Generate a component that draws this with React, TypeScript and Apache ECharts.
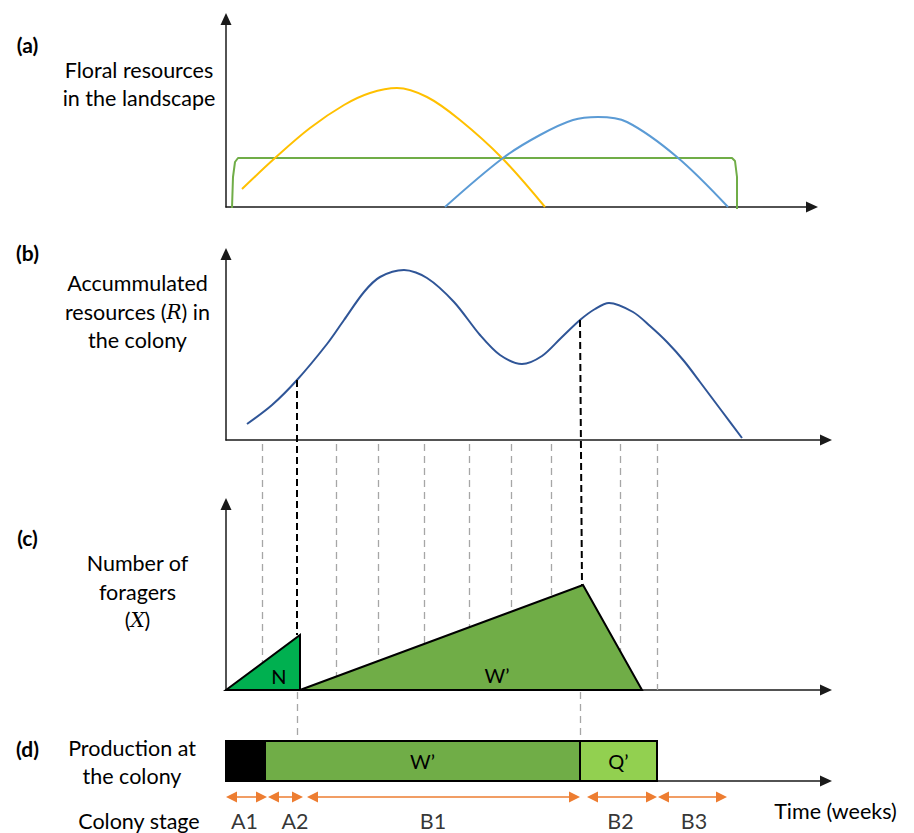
import React, { useEffect, useRef } from "react";
import * as echarts from "echarts";

// Time axis unit: 1 unit = one step of the (unlabelled) time axis; y values relative amounts.
// (a) Floral resources in the landscape
const YELLOW_FLOWERS = [[1.6, 1.8], [4.9, 4.9], [8.4, 7.9], [11.8, 10.2], [14.4, 11.4], [17.1, 11.9], [20.1, 11.0], [23.4, 8.7], [27.6, 4.9], [31.9, 0.0]];
const BLUE_FLOWERS = [[21.9, 0], [27.7, 4.9], [31.4, 7.2], [34.7, 8.7], [37.2, 9.0], [40.1, 8.5], [45.1, 5.0], [50.2, 0]];
const GREEN_FLOWERS = [[0.6, -0.1], [0.7, 3.0], [0.9, 4.5], [1.2, 4.9], [50.6, 4.9], [50.9, 4.6], [51.1, 3.0], [51.1, -0.2]];

// (b) Accumulated resources R
const RESOURCES = [
  [2.1, 1.6], [4.6, 3.5], [7.1, 6.0], [10.1, 9.6], [11.8, 12.0], [13.8, 14.8], [15.4, 16.3], [17.8, 17.0],
  [20.1, 16.2], [22.8, 13.8], [25.4, 10.5], [27.4, 8.5], [29.6, 7.6], [31.6, 8.4], [33.5, 10.2],
  [35.4, 12.0], [36.9, 13.1], [38.3, 13.7], [40.7, 12.8], [42.4, 11.4], [44.1, 9.8], [45.8, 7.9], [47.4, 5.8],
  [49.5, 3.0], [51.6, 0.2],
];

// (c) Number of foragers X
const FORAGER_NAMES = ["N", "W\u2019"];
const FORAGER_XS = [[0, 7.4, 7.4], [7.4, 35.7, 41.6]];
const FORAGER_YS = [[0, 5.5, 0], [0, 10.5, 0]];
const FORAGER_LABEL_X = [5.3, 27.1];
const FORAGER_LABEL_Y = [1.4, 1.5];

// guide lines (in panel c units)
const GUIDE_X = [3.6, 11.0, 15.2, 19.8, 24.3, 28.5, 32.5, 39.4, 43.1];
const GUIDE_TOP = 24.6;
const LINK_X_TOP = [7.1, 35.4];
const LINK_Y_TOP = [31.0, 37.0];
const LINK_X_BOTTOM = [7.1, 35.6];
const LINK_Y_BOTTOM = [5.5, 10.5];
const LOWER_LINK_X = [7.1, 35.4];
const LOWER_LINK_Y = [-0.2, -5.0];

// (d) Production at the colony
const PROD_NAMES = ["", "W\u2019", "Q\u2019"];
const PROD_START = [0, 3.9, 35.4];
const PROD_END = [3.9, 35.4, 43.1];
const PROD_HEIGHT = 4;

// Colony stages
const STAGE_NAMES = ["A1", "A2", "B1", "B2", "B3"];
const STAGE_START = [0, 4.2, 8.1, 36.1, 43.2];
const STAGE_END = [4.1, 7.7, 35.4, 43.1, 50.1];
const STAGE_LABEL_X = [1.85, 6.9, 20.7, 39.45, 46.8];
const STAGE_ROW_Y = -1.6;
const STAGE_LABEL_Y = -4.0;

const FONT = "Lato, 'Noto Sans', sans-serif";
const FS = 21.5;

export default function App() {
  const ref = useRef<HTMLDivElement>(null);
  useEffect(() => {
    if (!ref.current) return;
    const chart = echarts.init(ref.current, undefined, { renderer: "svg" });
    const axisLine = (show: boolean, color: string) => ({
      show,
      onZero: false,
      symbol: ["none", "triangle"],
      symbolSize: [11, 12],
      lineStyle: { color, width: 1.5 },
    });
    const xMax = [58.6, 60, 60, 60];
    const yMax = [18.8, 18.6, 18.6, 4];
    const arrowInset = 0.55;
    const polyFills = ["#00B050", "#70AD47"];
    const prodFills = ["#000000", "#70AD47", "#92D050"];

    const option: any = {
      animation: false,
      backgroundColor: "#ffffff",
      grid: [
        { left: 226, top: 19, width: 586, height: 188 },
        { left: 226, top: 254, width: 600, height: 186 },
        { left: 226, top: 504, width: 600, height: 186 },
        { left: 226, top: 741, width: 600, height: 40 },
      ],
      xAxis: [0, 1, 2, 3].map((i) => ({
        type: "value",
        gridIndex: i,
        min: 0,
        max: xMax[i],
        axisLine: axisLine(true, "#1a1a1a"),
        axisTick: { show: false },
        axisLabel: { show: false },
        splitLine: { show: false },
      })),
      yAxis: [0, 1, 2, 3].map((i) => ({
        type: "value",
        gridIndex: i,
        min: 0,
        max: yMax[i],
        show: i < 3,
        axisLine: axisLine(i < 3, "#1a1a1a"),
        axisTick: { show: false },
        axisLabel: { show: false },
        splitLine: { show: false },
      })),
      series: [
        {
          type: "line", xAxisIndex: 0, yAxisIndex: 0, data: YELLOW_FLOWERS, smooth: 0.35,
          symbol: "none", lineStyle: { color: "#FFC000", width: 2 }, z: 3,
        },
        {
          type: "line", xAxisIndex: 0, yAxisIndex: 0, data: BLUE_FLOWERS, smooth: 0.35,
          symbol: "none", lineStyle: { color: "#5B9BD5", width: 2 }, z: 3,
        },
        {
          type: "line", xAxisIndex: 0, yAxisIndex: 0, data: GREEN_FLOWERS, smooth: false,
          symbol: "none", lineStyle: { color: "#70AD47", width: 2 }, z: 2, clip: false,
        },
        {
          type: "line", xAxisIndex: 1, yAxisIndex: 1, data: RESOURCES, smooth: 0.3,
          symbol: "none", lineStyle: { color: "#2F5597", width: 2 }, z: 3,
        },
        {
          type: "lines", coordinateSystem: "cartesian2d", xAxisIndex: 2, yAxisIndex: 2, clip: false, z: 1,
          lineStyle: { color: "#A6A6A6", width: 1.3, type: [7, 5], opacity: 1 },
          data: [
            ...GUIDE_X.map((x) => ({ coords: [[x, GUIDE_TOP], [x, 0]] })),
            ...LOWER_LINK_X.map((x) => ({ coords: [[x, LOWER_LINK_Y[0]], [x, LOWER_LINK_Y[1]]] })),
          ],
        },
        {
          type: "custom", xAxisIndex: 2, yAxisIndex: 2, z: 2,
          data: FORAGER_NAMES.map((_, i) => [FORAGER_LABEL_X[i], FORAGER_LABEL_Y[i], i]),
          encode: { x: 0, y: 1 },
          renderItem: (_params: any, api: any) => {
            const idx = api.value(2);
            const pts = FORAGER_XS[idx].map((x, k) => api.coord([x, FORAGER_YS[idx][k]]));
            const lp = api.coord([api.value(0), api.value(1)]);
            return {
              type: "group",
              children: [
                { type: "polygon", shape: { points: pts }, style: { fill: polyFills[idx], stroke: "#000", lineWidth: 2 } },
                {
                  type: "text", x: lp[0], y: lp[1],
                  style: { text: FORAGER_NAMES[idx], fill: "#000", font: `20px ${FONT}`, align: "center", verticalAlign: "middle" },
                },
              ],
            };
          },
        },
        {
          type: "lines", coordinateSystem: "cartesian2d", xAxisIndex: 2, yAxisIndex: 2, clip: false, z: 4,
          lineStyle: { color: "#000000", width: 2, type: [7, 4], opacity: 1 },
          data: LINK_X_TOP.map((x, i) => ({ coords: [[x, LINK_Y_TOP[i]], [LINK_X_BOTTOM[i], LINK_Y_BOTTOM[i]]] })),
        },
        {
          type: "custom", xAxisIndex: 3, yAxisIndex: 3, z: 3,
          data: PROD_START.map((s, i) => [s, PROD_END[i], i]),
          encode: { x: [0, 1] },
          renderItem: (_params: any, api: any) => {
            const idx = api.value(2);
            const p0 = api.coord([api.value(0), PROD_HEIGHT]);
            const p1 = api.coord([api.value(1), 0]);
            return {
              type: "group",
              children: [
                {
                  type: "rect",
                  shape: { x: p0[0], y: p0[1], width: p1[0] - p0[0], height: p1[1] - p0[1] },
                  style: { fill: prodFills[idx], stroke: "#000", lineWidth: 2 },
                },
                {
                  type: "text", x: (p0[0] + p1[0]) / 2, y: (p0[1] + p1[1]) / 2,
                  style: { text: PROD_NAMES[idx], fill: "#000", font: `20px ${FONT}`, align: "center", verticalAlign: "middle" },
                },
              ],
            };
          },
        },
        {
          type: "lines", coordinateSystem: "cartesian2d", xAxisIndex: 3, yAxisIndex: 3, clip: false, z: 3,
          symbol: ["triangle", "triangle"], symbolSize: 11,
          lineStyle: { color: "#ED7D31", width: 1.5, opacity: 1 },
          data: STAGE_NAMES.map((_, i) => ({
            coords: [[STAGE_START[i] + arrowInset, STAGE_ROW_Y], [STAGE_END[i] - arrowInset, STAGE_ROW_Y]],
          })),
        },
        {
          type: "scatter", xAxisIndex: 3, yAxisIndex: 3, clip: false, symbolSize: 0,
          itemStyle: { color: "transparent" },
          data: STAGE_NAMES.map((n, i) => ({ name: n, value: [STAGE_LABEL_X[i], STAGE_LABEL_Y] })),
          label: { show: true, position: "inside", formatter: "{b}", color: "#000", fontSize: FS, fontFamily: FONT },
        },
      ],
      graphic: [
        ...[["(a)", 44], ["(b)", 252], ["(c)", 537], ["(d)", 748]].map(([t, y]) => ({
          type: "text", x: 27.5, y: y as number,
          style: { text: t as string, fill: "#000", font: `bold 21px ${FONT}`, align: "center", verticalAlign: "middle" },
        })),
        {
          type: "text", x: 139, y: 84,
          style: { text: "Floral resources\nin the landscape", fill: "#000", font: `${FS}px ${FONT}`, lineHeight: 28, align: "center", verticalAlign: "middle" },
        },
        {
          type: "text", x: 137.5, y: 311.5,
          style: {
            text: "Accummulated\nresources ({m|R}) in\nthe colony", fill: "#000", font: `${FS}px ${FONT}`, lineHeight: 28.5,
            align: "center", verticalAlign: "middle",
            rich: { m: { fontFamily: "'DejaVu Serif', serif", fontStyle: "italic", fontSize: 20, lineHeight: 28.5 } },
          },
        },
        {
          type: "text", x: 137.5, y: 591.5,
          style: {
            text: "Number of\nforagers\n({m|X})", fill: "#000", font: `${FS}px ${FONT}`, lineHeight: 28.5,
            align: "center", verticalAlign: "middle",
            rich: { m: { fontFamily: "'DejaVu Serif', serif", fontStyle: "italic", fontSize: 20, lineHeight: 28.5 } },
          },
        },
        {
          type: "text", x: 132, y: 762,
          style: { text: "Production at\nthe colony", fill: "#000", font: `${FS}px ${FONT}`, lineHeight: 28, align: "center", verticalAlign: "middle" },
        },
        {
          type: "text", x: 139, y: 821,
          style: { text: "Colony stage", fill: "#000", font: `${FS}px ${FONT}`, align: "center", verticalAlign: "middle" },
        },
        {
          type: "text", x: 835.5, y: 811,
          style: { text: "Time (weeks)", fill: "#000", font: `${FS}px ${FONT}`, align: "center", verticalAlign: "middle" },
        },
      ],
    };
    chart.setOption(option);
    return () => chart.dispose();
  }, []);
  return (
    <div
      ref={ref}
      style={{ position: "absolute", left: 0, top: 0, width: 914, height: 833, background: "#fff" }}
    />
  );
}
